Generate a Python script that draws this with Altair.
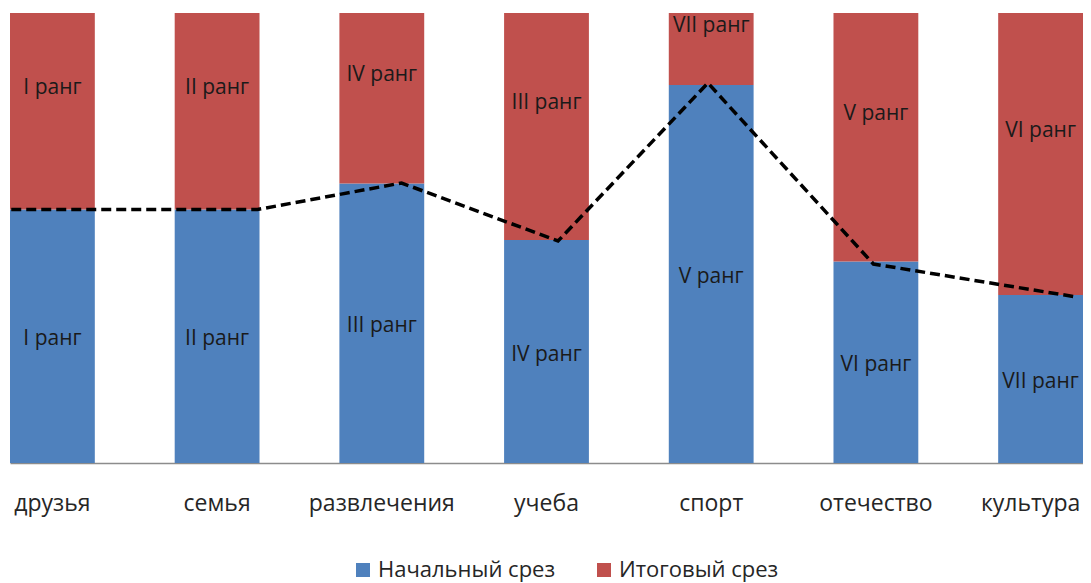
import altair as alt
import pandas as pd

categories = ["друзья", "семья", "развлечения", "учеба", "спорт", "отечество", "культура"]
series = ["Начальный срез", "Итоговый срез"]
initial_values = [50.7, 50.7, 55.9, 44.6, 75.6, 40.3, 33.6]
final_values = [49.9, 49.9, 44.7, 56.0, 25.0, 60.3, 67.0]
initial_ranks = ["I ранг", "II ранг", "III ранг", "IV ранг", "V ранг", "VI ранг", "VII ранг"]
final_ranks = ["I ранг", "II ранг", "IV ранг", "III ранг", "VII ранг", "V ранг", "VI ранг"]

# dashed trend line: positions in category units (0 = centre of first bar)
line_pos = [-0.25, 1.245, 2.12, 3.07, 3.98, 4.985, 6.2]
line_val = [50.7, 50.7, 56.0, 44.4, 76.0, 39.8, 33.3]

rows = []
for i, c in enumerate(categories):
    rows.append({"cat": c, "series": series[0], "ord": 0, "value": initial_values[i], "label": initial_ranks[i]})
    rows.append({"cat": c, "series": series[1], "ord": 1, "value": final_values[i], "label": final_ranks[i]})
df = pd.DataFrame(rows)
line_df = pd.DataFrame({"pos": line_pos, "val": line_val})

FONT = "Open Sans"
W, H = 1073, 450
P_INNER = 0.485
half = (1 - P_INNER) / 2

x_band = alt.X(
    "cat:N", sort=categories, title=None,
    scale=alt.Scale(paddingInner=P_INNER, paddingOuter=0),
    axis=alt.Axis(labelAngle=0, ticks=False, tickSize=0, labelPadding=29,
                  labelFontSize=23, labelFont=FONT, labelColor="#262626",
                  labelOffset=alt.condition("datum.value == 'культура'", alt.value(-10), alt.value(0)),
                  domainColor="#8c8c8c", domainWidth=1.5, grid=False),
)
y_scale = alt.Scale(domain=[0, 90], nice=False, zero=True)

bars = alt.Chart(df).mark_bar(clip=True).encode(
    x=x_band,
    y=alt.Y("value:Q", stack="zero", scale=y_scale, axis=None),
    color=alt.Color("series:N", sort=series,
                    scale=alt.Scale(domain=series, range=["#4F81BD", "#C0504D"]),
                    legend=alt.Legend(title=None, orient="none", legendX=342, legendY=546,
                                      direction="horizontal", symbolType="square",
                                      symbolSize=196, symbolStrokeWidth=0,
                                      labelFontSize=22, labelFont=FONT, labelColor="#262626",
                                      labelLimit=400, columnPadding=37, labelOffset=4)),
    order=alt.Order("ord:Q"),
)

labels = alt.Chart(df).transform_stack(
    stack="value", groupby=["cat"], as_=["y0", "y1"], sort=[alt.SortField("ord")]
).transform_calculate(
    mid="(datum.y0 + datum.y1) / 2"
).mark_text(font=FONT, fontSize=21, color="#1a1a1a", baseline="middle", align="center", dy=3).encode(
    x=alt.X("cat:N", sort=categories),
    y=alt.Y("mid:Q", scale=y_scale),
    text="label:N",
)

line = alt.Chart(line_df).mark_line(color="black", strokeWidth=3.5, strokeDash=[10, 5], clip=False).encode(
    x=alt.X("pos:Q", scale=alt.Scale(domain=[-half, 6 + half], nice=False, zero=False), axis=None),
    y=alt.Y("val:Q", scale=y_scale),
)

bar_layer = alt.layer(bars, labels)
chart = alt.layer(bar_layer, line).resolve_scale(x="independent").properties(
    width=W, height=H,
    autosize=alt.AutoSizeParams(type="none"),
    padding={"left": 2, "top": 5, "right": 0, "bottom": 120},
).configure_view(stroke=None)

chart.save("out.html", embed_options={"renderer": "svg", "actions": False})
